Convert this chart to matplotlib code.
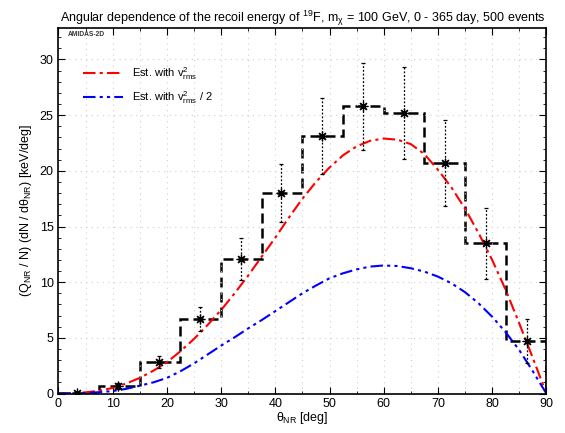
import numpy as np
import matplotlib
matplotlib.use("Agg")
import matplotlib.pyplot as plt
from matplotlib.ticker import MultipleLocator

plt.rcParams['font.family'] = ['Liberation Sans', 'DejaVu Sans']
plt.rcParams['mathtext.fontset'] = 'custom'
plt.rcParams['mathtext.rm'] = 'Liberation Sans'
plt.rcParams['mathtext.it'] = 'Liberation Sans'
plt.rcParams['mathtext.bf'] = 'Liberation Sans:bold'

# histogram of reconstructed angular recoil spectrum (bin width 7.5 deg)
bin_edges = [0, 7.5, 15, 22.5, 30, 37.5, 45, 52.5, 60, 67.5, 75, 82.5, 90]
hist_vals = [0.05, 0.68, 2.8, 6.7, 12.1, 18.0, 23.1, 25.8, 25.2, 20.7, 13.5, 4.7]

# data points with errors
pt_x = [3.4, 10.9, 18.5, 26.1, 33.6, 41.0, 48.7, 56.2, 63.8, 71.3, 78.9, 86.4]
pt_err = [0.1, 0.3, 0.55, 1.1, 1.9, 2.6, 3.4, 3.9, 4.1, 3.9, 3.2, 1.95]

# theoretical curves (read every 2.5 deg)
curve_x = [0, 2.5, 5, 7.5, 10, 12.5, 15, 17.5, 20, 22.5, 25, 27.5, 30, 32.5,
           35, 37.5, 40, 42.5, 45, 47.5, 50, 52.5, 55, 57.5, 60, 62.5, 65,
           67.5, 70, 72.5, 75, 77.5, 80, 82.5, 85, 87.5, 90]
red_y = [0, 0.02, 0.1, 0.25, 0.5, 0.9, 1.4, 2.05, 2.8, 3.8, 4.9, 6.15, 7.5,
         9.0, 10.6, 12.3, 14.0, 15.8, 17.5, 19.0, 20.3, 21.4, 22.2, 22.7, 22.9,
         22.8, 22.4, 21.5, 20.1, 18.5, 16.6, 14.4, 12.0, 9.3, 6.3, 3.2, 0]
blue_y = [0, 0.01, 0.05, 0.12, 0.22, 0.42, 0.7, 1.0, 1.4, 2.0, 2.7, 3.5, 4.3,
          5.05, 5.85, 6.6, 7.4, 8.2, 9.0, 9.7, 10.35, 10.8, 11.15, 11.4, 11.5,
          11.45, 11.25, 10.95, 10.5, 9.9, 9.1, 8.1, 6.9, 5.5, 3.9, 2.0, 0]

fig = plt.figure(figsize=(5.65, 4.33), dpi=100)
ax = fig.add_axes([0.1035, 0.0912, 0.8635, 0.8434])

ax.grid(True, which='both', axis='x', color='#cfcfcf', linestyle=(0, (1, 4)), lw=0.8)
ax.grid(True, which='major', axis='y', color='#cfcfcf', linestyle=(0, (1, 4)), lw=0.8)

ax.plot(curve_x, red_y, color='red', lw=1.5, linestyle=(0, (6, 2, 1.5, 2)),
        label=r'Est. with v$^2_{\rm rms}$')
ax.plot(curve_x, blue_y, color='blue', lw=1.5,
        linestyle=(0, (6, 2, 1.5, 2, 1.5, 2)),
        label=r'Est. with v$^2_{\rm rms}$ / 2')

ax.stairs(hist_vals, bin_edges, color='black', lw=1.8, linestyle=(0, (4, 2)))

eb = ax.errorbar(pt_x, hist_vals, yerr=pt_err, fmt='none', ecolor='black',
                 elinewidth=0.9, capsize=1.5, capthick=0.9)
eb[2][0].set_linestyle((0, (1.5, 1.5)))
ax.plot(pt_x, hist_vals, linestyle='none', marker=(8, 2, 0), ms=7,
        mec='black', mew=0.9)

ax.set_xlim(0, 90)
ax.set_ylim(0, 32.8)
ax.xaxis.set_major_locator(MultipleLocator(10))
ax.xaxis.set_minor_locator(MultipleLocator(5))
ax.yaxis.set_major_locator(MultipleLocator(5))
ax.yaxis.set_minor_locator(MultipleLocator(1))
ax.tick_params(which='both', direction='in', top=True, right=True, labelsize=9)
ax.tick_params(which='major', length=5, width=0.8)
ax.tick_params(which='minor', length=2.5, width=0.6)
for s in ax.spines.values():
    s.set_linewidth(1.2)

ax.set_xlabel(r'$\theta_{\rm NR}$ [deg]', fontsize=9, labelpad=0)
ax.set_ylabel(r'(Q$_{\rm NR}$ / N) (dN / d$\theta_{\rm NR}$) [keV/deg]', fontsize=9,
              labelpad=4)
ax.set_title(r'Angular dependence of the recoil energy of $^{19}$F, m$_\chi$ = 100 GeV, '
             '0 - 365 day, 500 events', fontsize=9, pad=4)
ax.text(0.019, 0.984, 'AMIDAS-2D', transform=ax.transAxes, fontsize=4.8,
        va='center', ha='left', fontweight='bold', color='#333333')

ax.legend(loc='upper left', bbox_to_anchor=(0.03, 0.9255), frameon=False,
          fontsize=8, handlelength=3.6, labelspacing=0.6)

fig.savefig('out.png', dpi=100)
